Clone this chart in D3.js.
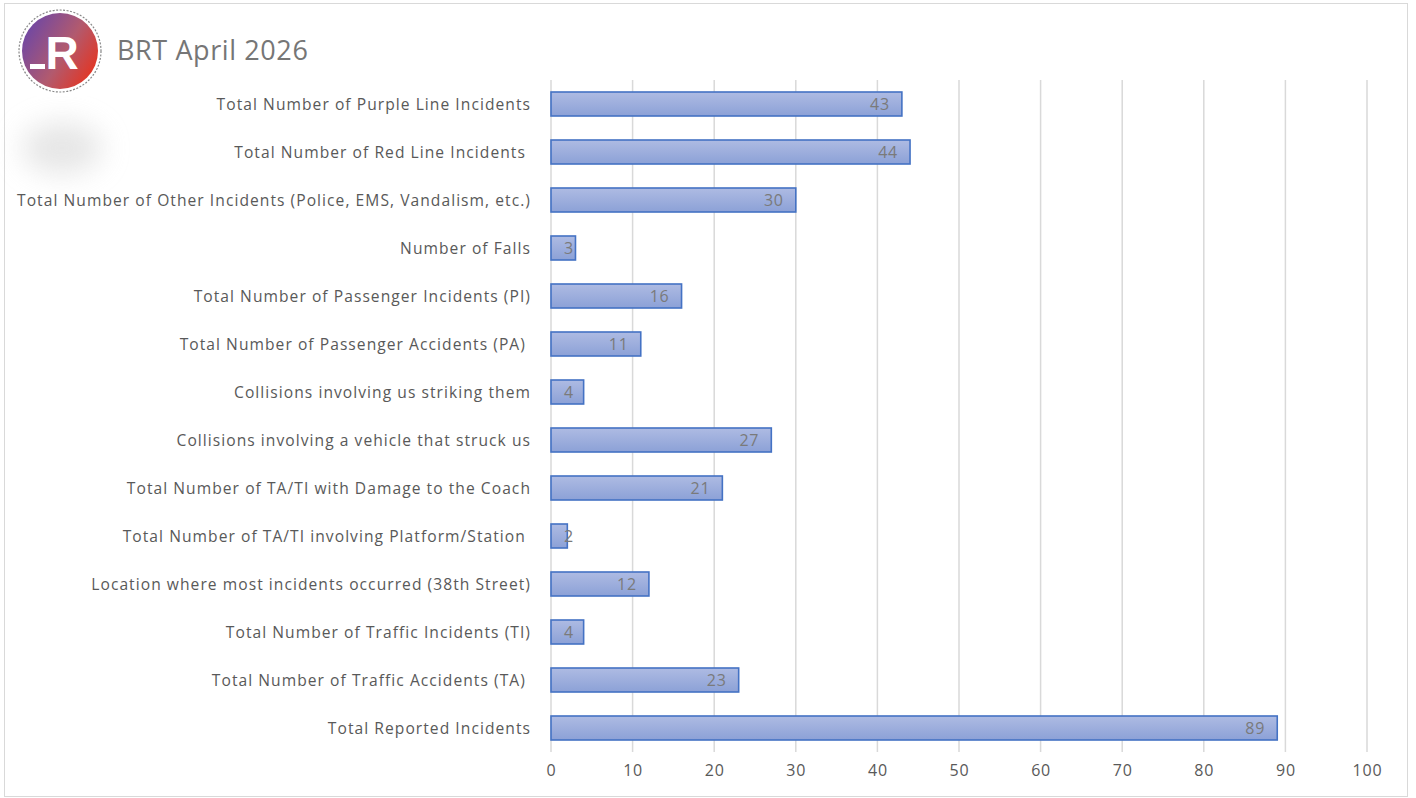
<!DOCTYPE html>
<html><head><meta charset="utf-8">
<script src="https://cdn.jsdelivr.net/npm/d3@7"></script>
<style>
html,body{margin:0;padding:0;background:#fff;}
text{font-family:"Open Sans","Noto Sans",sans-serif;}
</style></head>
<body><svg id="c" width="1416" height="798"></svg>
<script>
const title = "BRT April 2026";
const categories = [
  "Total Number of Purple Line Incidents",
  "Total Number of Red Line Incidents ",
  "Total Number of Other Incidents (Police, EMS, Vandalism, etc.)",
  "Number of Falls",
  "Total Number of Passenger Incidents (PI)",
  "Total Number of Passenger Accidents (PA) ",
  "Collisions involving us striking them",
  "Collisions involving a vehicle that struck us",
  "Total Number of TA/TI with Damage to the Coach",
  "Total Number of TA/TI involving Platform/Station ",
  "Location where most incidents occurred (38th Street)",
  "Total Number of Traffic Incidents (TI)",
  "Total Number of Traffic Accidents (TA) ",
  "Total Reported Incidents"
];
const values = [43, 44, 30, 3, 16, 11, 4, 27, 21, 2, 12, 4, 23, 89];
const xTicks = [0,10,20,30,40,50,60,70,80,90,100];

const svg = d3.select("#c");
const defs = svg.append("defs");
const bg = defs.append("linearGradient").attr("id","barG").attr("x1",0).attr("y1",0).attr("x2",0).attr("y2",1);
bg.append("stop").attr("offset","0%").attr("stop-color","#aebbe3");
bg.append("stop").attr("offset","100%").attr("stop-color","#8ca1d7");
const lg = defs.append("linearGradient").attr("id","logoG").attr("x1",0).attr("y1",0.2).attr("x2",1).attr("y2",0.8);
lg.append("stop").attr("offset","0%").attr("stop-color","#6a46a8");
lg.append("stop").attr("offset","55%").attr("stop-color","#b25a6e");
lg.append("stop").attr("offset","100%").attr("stop-color","#e8321c");
const bl = defs.append("filter").attr("id","blur").attr("x","-50%").attr("y","-50%").attr("width","200%").attr("height","200%");
bl.append("feGaussianBlur").attr("stdDeviation",14);

// chart border
svg.append("rect").attr("x",4.5).attr("y",3.5).attr("width",1403).attr("height",793)
  .attr("fill","#fff").attr("stroke","#d9d9d9").attr("stroke-width",1);

// logo
const logo = svg.append("g");
logo.append("circle").attr("cx",60).attr("cy",51).attr("r",41).attr("fill","#fff")
  .attr("stroke","#888").attr("stroke-width",1.2).attr("stroke-dasharray","2,1.5");
logo.append("circle").attr("cx",60).attr("cy",51).attr("r",38).attr("fill","url(#logoG)");
logo.append("text").attr("x",62).attr("y",69).attr("text-anchor","middle")
  .attr("font-size",46).attr("font-weight",700).attr("fill","#fff")
  .style("font-family","Liberation Sans, Arial, sans-serif").text("R");
logo.append("rect").attr("x",30).attr("y",64).attr("width",15).attr("height",5).attr("fill","#fff");
svg.append("ellipse").attr("cx",62).attr("cy",148).attr("rx",40).attr("ry",26)
  .attr("fill","#dcdcdc").attr("filter","url(#blur)").attr("opacity",0.7);

svg.append("text").attr("x",117).attr("y",60).attr("font-size",27).attr("letter-spacing",0.6)
  .attr("fill","#767676").text(title);

const x = d3.scaleLinear().domain([0,100]).range([551,1367]);
const y = d3.scaleBand().domain(categories).range([80,752]).paddingInner(0.5).paddingOuter(0.25);

// gridlines
svg.append("g").selectAll("line").data(xTicks).join("line")
  .attr("x1",d=>x(d)).attr("x2",d=>x(d)).attr("y1",80).attr("y2",752)
  .attr("stroke","#d9d9d9").attr("stroke-width",1.5);

// x axis labels
const xa = svg.append("g").attr("transform","translate(0,752)")
  .call(d3.axisBottom(x).tickValues(xTicks).tickSize(0).tickPadding(13));
xa.select(".domain").remove();
xa.selectAll("text").attr("font-size",16).attr("letter-spacing",0.8).attr("fill","#595959")
  .style("font-family","'Open Sans','Noto Sans',sans-serif");

// y axis labels
const ya = svg.append("g").attr("transform","translate(531,1)")
  .call(d3.axisLeft(y).tickSize(0).tickPadding(0));
ya.select(".domain").remove();
ya.selectAll("text").attr("font-size",15.6).attr("letter-spacing",1.05).attr("fill","#595959").style("white-space","pre")
  .style("font-family","'Open Sans','Noto Sans',sans-serif");

// bars
svg.append("g").selectAll("rect").data(values).join("rect")
  .attr("x",x(0)).attr("y",(d,i)=>y(categories[i]))
  .attr("width",d=>x(d)-x(0)).attr("height",y.bandwidth())
  .attr("fill","url(#barG)").attr("stroke","#4472c4").attr("stroke-width",1.6);

// data labels
const lab = svg.append("g").selectAll("text").data(values).join("text")
  .attr("y",(d,i)=>y(categories[i])+y.bandwidth()/2).attr("dy","0.35em")
  .attr("text-anchor","end").attr("font-size",16).attr("letter-spacing",0.8)
  .attr("fill","#7a7a7a").text(d=>d);
lab.each(function(d){
  const w = this.getComputedTextLength();
  const xr = Math.max(x(d)-12, x(0)+13+w);
  d3.select(this).attr("x", xr);
});
</script></body></html>
